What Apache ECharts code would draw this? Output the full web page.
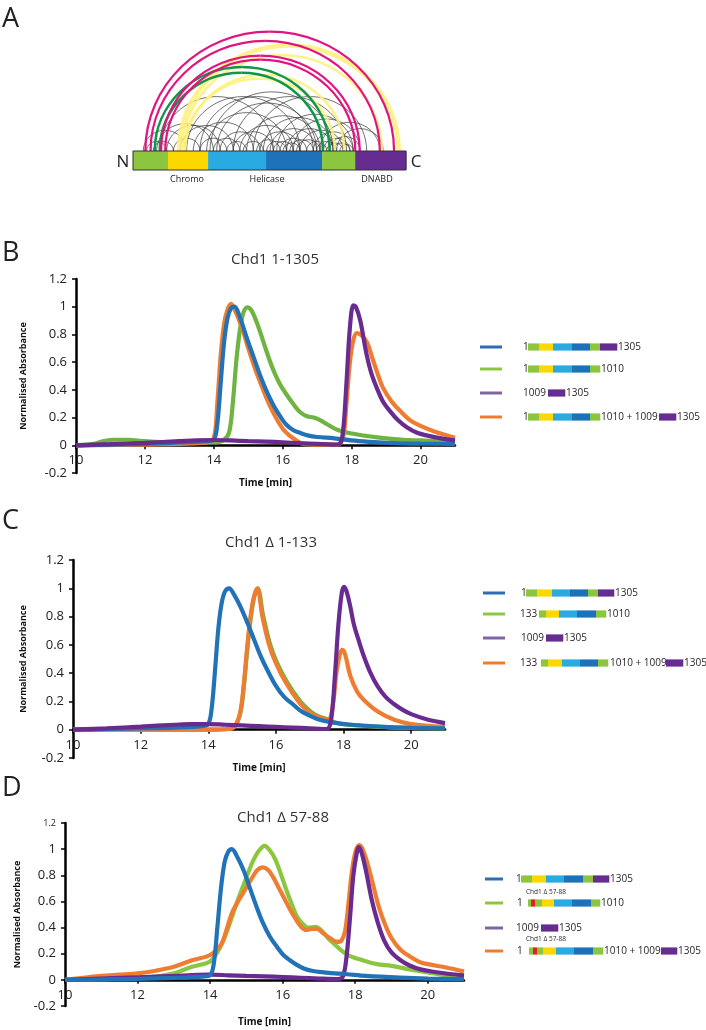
<!DOCTYPE html>
<html>
<head>
<meta charset="utf-8">
<script src="https://cdn.jsdelivr.net/npm/echarts@6/dist/echarts.min.js"></script>
<style>
html,body{margin:0;padding:0;background:#fff;}
#c{width:706px;height:1030px;}
</style>
</head>
<body>
<div id="c"></div>
<script>
// ---------------- Panel A data (residue positions) ----------------
const DOMAINS = [[0,167],[167,359],[359,636],[636,904],[904,1062],[1062,1305]];
const DOMAIN_NAMES = ['', 'Chromo', 'Helicase', '', '', 'DNABD'];
const LINKS_BLACK = [[49,256],[65,161],[97,193],[113,384],[129,671],[193,320],[225,479],[256,798],[288,575],[320,448],[352,734],[384,511],[400,878],[416,607],[448,543],[479,1021],[479,671],[511,766],[527,623],[543,894],[575,1117],[591,703],[607,798],[623,957],[639,734],[655,878],[671,766],[687,1053],[703,830],[718,798],[734,957],[750,862],[766,1085],[782,894],[798,1005],[830,926],[862,1053],[878,973],[894,1180],[910,1037],[926,1005],[941,1085],[957,1037],[973,1196],[989,1053],[320,862],[368,957],[161,416]];
const LINKS_YELLOW = [[215,1275],[225,1265],[235,1190],[245,965],[250,1010]];
const LINKS_GREEN = [[104,940],[128,908]];
const LINKS_PINK = [[59,1248],[84,1180],[134,1084],[154,1063]];

// ---------------- Chromatography data: [time (min), normalised absorbance] ----------------
const X_TICKS = [10,12,14,16,18,20];

const B_BLUE = [[10,0],[11,0.005],[12,0.01],[13,0.02],[13.8,0.03],[14.0,0.04],[14.1,0.15],[14.2,0.45],[14.3,0.75],[14.4,0.92],[14.5,0.99],[14.6,1.0],[14.75,0.93],[14.95,0.78],[15.15,0.64],[15.35,0.5],[15.55,0.38],[15.75,0.28],[15.95,0.2],[16.1,0.15],[16.3,0.11],[16.5,0.09],[16.75,0.07],[17.0,0.06],[17.5,0.05],[18.0,0.035],[18.5,0.025],[19.0,0.018],[20.0,0.012],[21.0,0.01]];
const B_GREEN = [[10,0],[10.5,0.01],[10.8,0.03],[11.1,0.04],[11.5,0.04],[12,0.03],[13,0.02],[14,0.02],[14.3,0.04],[14.45,0.1],[14.55,0.3],[14.65,0.6],[14.75,0.82],[14.85,0.95],[14.97,0.995],[15.1,0.97],[15.3,0.85],[15.5,0.7],[15.7,0.56],[15.9,0.45],[16.1,0.37],[16.3,0.3],[16.5,0.24],[16.7,0.21],[16.9,0.2],[17.1,0.18],[17.3,0.15],[17.6,0.11],[18.0,0.085],[18.5,0.065],[19,0.05],[19.5,0.04],[20,0.035],[21,0.025]];
const B_PURPLE = [[10,0],[11,0.008],[12,0.018],[13,0.03],[13.5,0.036],[14.0,0.038],[14.5,0.035],[15,0.03],[15.5,0.027],[16,0.022],[16.5,0.015],[17,0.01],[17.5,0.005],[17.65,0.01],[17.75,0.1],[17.85,0.45],[17.95,0.85],[18.05,1.01],[18.12,1.0],[18.25,0.9],[18.43,0.66],[18.57,0.52],[18.72,0.42],[18.9,0.32],[19.1,0.25],[19.35,0.18],[19.6,0.13],[19.9,0.09],[20.2,0.07],[20.6,0.05],[21.0,0.036]];
const B_ORANGE = [[10,0],[12,0.005],[13,0.01],[13.8,0.02],[14.0,0.05],[14.1,0.3],[14.2,0.65],[14.3,0.88],[14.4,0.98],[14.5,1.02],[14.6,0.98],[14.8,0.86],[15.0,0.7],[15.2,0.55],[15.4,0.42],[15.6,0.3],[15.8,0.2],[16.0,0.12],[16.2,0.07],[16.4,0.035],[16.6,0.01],[17.0,0.005],[17.6,0.005],[17.75,0.05],[17.85,0.3],[17.95,0.6],[18.05,0.76],[18.15,0.81],[18.3,0.79],[18.45,0.74],[18.6,0.63],[18.75,0.52],[18.9,0.42],[19.15,0.32],[19.4,0.25],[19.7,0.18],[20.0,0.14],[20.4,0.1],[21.0,0.055]];

const C_BLUE = [[10,0],[11,0.005],[12,0.01],[13,0.015],[13.8,0.025],[14.0,0.04],[14.1,0.15],[14.2,0.42],[14.3,0.72],[14.4,0.9],[14.5,0.98],[14.62,1.0],[14.75,0.96],[14.95,0.87],[15.15,0.76],[15.35,0.64],[15.55,0.52],[15.75,0.42],[16.0,0.31],[16.25,0.23],[16.5,0.18],[16.75,0.13],[17.0,0.1],[17.3,0.07],[17.7,0.05],[18.2,0.035],[19.2,0.02],[20,0.014],[21,0.01]];
const C_GREEN = [[10,0],[12,0],[14,0.0],[14.6,0.005],[14.8,0.03],[14.95,0.12],[15.05,0.3],[15.15,0.56],[15.25,0.78],[15.35,0.93],[15.46,1.0],[15.62,0.81],[15.82,0.61],[16.02,0.48],[16.32,0.34],[16.72,0.2],[17.02,0.13],[17.22,0.1],[17.5,0.075],[17.7,0.055],[18,0.04],[18.5,0.03],[19,0.02],[20,0.012],[21,0.01]];
const C_ORANGE = [[10,0],[12,0],[14,0.0],[14.6,0.005],[14.8,0.03],[14.95,0.13],[15.05,0.32],[15.15,0.58],[15.25,0.8],[15.35,0.94],[15.45,1.0],[15.6,0.8],[15.8,0.6],[16.0,0.47],[16.3,0.33],[16.7,0.19],[17.0,0.12],[17.2,0.095],[17.5,0.075],[17.6,0.08],[17.7,0.2],[17.8,0.42],[17.9,0.54],[17.97,0.565],[18.05,0.53],[18.2,0.38],[18.4,0.27],[18.6,0.21],[19.0,0.13],[19.5,0.07],[20.0,0.04],[21,0.02]];
const C_PURPLE = [[10,0],[11,0.01],[12,0.022],[13,0.035],[13.5,0.04],[14,0.04],[14.5,0.035],[15,0.03],[15.5,0.025],[16,0.02],[16.5,0.015],[17,0.01],[17.4,0.005],[17.55,0.01],[17.65,0.1],[17.75,0.4],[17.85,0.75],[17.95,0.97],[18.02,1.01],[18.1,0.97],[18.2,0.87],[18.3,0.75],[18.45,0.63],[18.6,0.52],[18.8,0.4],[19.0,0.31],[19.25,0.23],[19.5,0.18],[19.75,0.14],[20.0,0.11],[20.5,0.07],[21.0,0.047]];

const D_BLUE = [[10,0],[11,0.003],[12,0.008],[13,0.015],[13.8,0.025],[14.0,0.035],[14.1,0.12],[14.2,0.4],[14.3,0.7],[14.4,0.9],[14.5,0.98],[14.6,1.0],[14.75,0.94],[14.92,0.84],[15.1,0.7],[15.28,0.56],[15.45,0.44],[15.65,0.33],[15.85,0.25],[16.02,0.19],[16.2,0.15],[16.39,0.115],[16.6,0.085],[16.8,0.07],[17.2,0.056],[17.77,0.043],[18.3,0.03],[19.24,0.017],[20,0.01],[21,0.005]];
const D_GREEN = [[10,0],[11,0.005],[12,0.012],[12.5,0.025],[13,0.05],[13.3,0.08],[13.5,0.1],[13.8,0.12],[14,0.14],[14.15,0.19],[14.3,0.26],[14.45,0.36],[14.6,0.48],[14.75,0.6],[14.9,0.71],[15.05,0.82],[15.2,0.92],[15.35,0.99],[15.5,1.025],[15.65,0.99],[15.8,0.92],[15.95,0.81],[16.1,0.69],[16.25,0.58],[16.4,0.48],[16.55,0.43],[16.7,0.4],[16.9,0.405],[17.1,0.37],[17.25,0.32],[17.4,0.28],[17.6,0.23],[17.8,0.19],[18.2,0.15],[18.6,0.12],[19,0.107],[19.5,0.08],[20,0.056],[20.5,0.035],[21,0.02]];
const D_ORANGE = [[10,0],[10.5,0.015],[11,0.03],[11.5,0.04],[12,0.05],[12.5,0.07],[13,0.1],[13.5,0.15],[14,0.19],[14.3,0.27],[14.45,0.38],[14.6,0.51],[14.75,0.59],[14.9,0.66],[15.05,0.73],[15.2,0.8],[15.3,0.84],[15.45,0.86],[15.6,0.84],[15.75,0.78],[15.9,0.7],[16.05,0.62],[16.2,0.54],[16.35,0.47],[16.5,0.41],[16.65,0.38],[16.8,0.39],[16.95,0.39],[17.1,0.36],[17.3,0.32],[17.5,0.29],[17.62,0.3],[17.72,0.37],[17.82,0.6],[17.92,0.85],[18.02,0.99],[18.12,1.03],[18.22,0.99],[18.35,0.88],[18.5,0.72],[18.65,0.56],[18.8,0.44],[19.0,0.32],[19.25,0.23],[19.5,0.18],[19.75,0.14],[20.0,0.12],[20.5,0.095],[21,0.065]];
const D_PURPLE = [[10,0],[11,0.01],[12,0.02],[13,0.03],[13.5,0.037],[14,0.04],[14.5,0.035],[15,0.03],[15.5,0.027],[16,0.022],[16.5,0.016],[17,0.01],[17.5,0.006],[17.65,0.02],[17.75,0.15],[17.85,0.45],[17.95,0.8],[18.05,0.98],[18.1,1.015],[18.18,0.97],[18.3,0.83],[18.45,0.62],[18.6,0.46],[18.8,0.3],[19.0,0.21],[19.25,0.15],[19.5,0.11],[19.8,0.08],[20.2,0.06],[20.6,0.045],[21,0.035]];

// ---------------- styles ----------------
const FONT = '"Open Sans", "Noto Sans", sans-serif';
const C_BLUE_L = '#2272b8', C_GREEN_L = '#6fb440', C_GREEN_L2 = '#8cc63f', C_PURPLE_L = '#6a2b90', C_ORANGE_L = '#ee7d31';
const DG = '#8cc63f', DY = '#fcd800', DLB = '#29abe2', DDB = '#1d71b8', DP = '#662d91', DR = '#e2231a';
const DOMAIN_COLORS = [DG, DY, DLB, DDB, DG, DP];
const LEG_BLUE = '#2e6db4', LEG_GREEN = '#8cc63f', LEG_PURPLE = '#8064a2', LEG_ORANGE = '#f07c32';

const GRIDS = [
  {left: 133, top: 20, width: 273, height: 151},
  {left: 76, top: 279, width: 379, height: 194},
  {left: 73, top: 560, width: 372, height: 198},
  {left: 65, top: 823, width: 399, height: 183}
];

const chart = echarts.init(document.getElementById('c'), null, {renderer: 'canvas'});

function arcRenderer(color, width, opacity) {
  return function (params, api) {
    const p1 = api.coord([api.value(0), 0]);
    const p2 = api.coord([api.value(1), 0]);
    const rx = (p2[0] - p1[0]) / 2, cx = (p1[0] + p2[0]) / 2, cy = p1[1];
    const ry = rx * 0.96, k = 0.5523;
    const st = {stroke: color, lineWidth: width, fill: 'none', opacity: opacity};
    return {type: 'group', children: [
      {type: 'bezierCurve', shape: {x1: p1[0], y1: cy, cpx1: p1[0], cpy1: cy - k * ry, cpx2: cx - k * rx, cpy2: cy - ry, x2: cx, y2: cy - ry}, style: st},
      {type: 'bezierCurve', shape: {x1: cx, y1: cy - ry, cpx1: cx + k * rx, cpy1: cy - ry, cpx2: p2[0], cpy2: cy - k * ry, x2: p2[0], y2: cy}, style: st}
    ]};
  };
}
function arcSeries(data, color, width, opacity, z) {
  return {type: 'custom', coordinateSystem: 'cartesian2d', xAxisIndex: 0, yAxisIndex: 0, clip: false, silent: true, z: z,
    data: data, renderItem: arcRenderer(color, width, opacity)};
}

// x axis drawn along y = 0: shifted up from the grid bottom by the height of 0.2 units (range -0.2..1.2 = 7 steps)
function xAxisFor(gi, gap) {
  return {type: 'value', gridIndex: gi, min: 10, max: 21, interval: 2, position: 'bottom',
    offset: -GRIDS[gi].height / 7,
    axisLine: {show: true, onZero: false, lineStyle: {color: '#000', width: 2.5}},
    axisTick: {show: true, inside: false, length: 4, lineStyle: {color: '#000', width: 1.5}, customValues: X_TICKS},
    axisLabel: {color: '#222', fontSize: 13, fontFamily: FONT, margin: 9, customValues: X_TICKS},
    splitLine: {show: false},
    name: 'Time [min]', nameLocation: 'middle', nameGap: gap,
    nameTextStyle: {fontWeight: 'bold', fontSize: 10, color: '#111', fontFamily: FONT}};
}
function yAxisFor(gi, gap, smallTop) {
  return {type: 'value', gridIndex: gi, min: -0.2, max: 1.2, interval: 0.2,
    axisLine: {show: true, onZero: false, lineStyle: {color: '#000', width: 2.5}},
    axisTick: {show: true, inside: false, length: 4, lineStyle: {color: '#000', width: 1.5}},
    axisLabel: {color: '#222', fontSize: 13, fontFamily: FONT, margin: 9,
      formatter: function (v) { const r = Math.round(v * 10) / 10; if (smallTop && r === 1.2) return '{s|1.2}'; return String(r); },
      rich: {s: {fontSize: 9, fontFamily: FONT, color: '#222'}}},
    splitLine: {show: false},
    name: 'Normalised Absorbance', nameLocation: 'middle', nameGap: gap,
    nameTextStyle: {fontWeight: 'bold', fontSize: 9, color: '#111', fontFamily: FONT}};
}
function lineSeries(gi, data, color, z) {
  return {type: 'line', xAxisIndex: gi, yAxisIndex: gi, data: data, showSymbol: false, smooth: 0.35,
    lineStyle: {color: color, width: 4.2}, itemStyle: {color: color}, z: z, silent: true, clip: true};
}

// ---------------- graphic helpers (text, legend) ----------------
const graphics = [];
function txt(x, y, s, size, opts) {
  opts = opts || {};
  graphics.push({type: 'text', x: x, y: y, z: 10, silent: true, style: {text: s, fill: opts.color || '#231f20', fontSize: size,
    fontFamily: FONT, fontWeight: opts.weight || 'normal', align: opts.align || 'left', textAlign: opts.align || 'left',
    verticalAlign: 'middle', textVerticalAlign: 'middle'}});
}
function legendRow(y, color, lx1, lx2, items) {
  graphics.push({type: 'line', silent: true, shape: {x1: lx1, y1: y, x2: lx2, y2: y}, style: {stroke: color, lineWidth: 3}});
  items.forEach(function (it) {
    if (typeof it[1] === 'string') {
      txt(it[0], y, it[1], 10);
    } else {
      let x = it[0];
      it[1].forEach(function (sg) {
        graphics.push({type: 'rect', silent: true, shape: {x: x, y: y - 3.6, width: sg[0] + 0.3, height: 7.2}, style: {fill: sg[1]}});
        x += sg[0];
      });
    }
  });
}

// panel letters and titles
txt(2, 19, 'A', 27, {color: '#222'});
txt(2, 253, 'B', 27, {color: '#222'});
txt(2, 521, 'C', 27, {color: '#222'});
txt(2, 788, 'D', 27, {color: '#222'});
txt(275, 260, 'Chd1 1-1305', 15, {align: 'center', color: '#333'});
txt(271, 543, 'Chd1 Δ 1-133', 15, {align: 'center', color: '#333'});
txt(283, 818, 'Chd1 Δ 57-88', 15, {align: 'center', color: '#333'});
// panel A labels
txt(123, 162, 'N', 17, {align: 'center', color: '#222'});
txt(416, 162, 'C', 17, {align: 'center', color: '#222'});

const FULL = [[11, DG], [14, DY], [19, DLB], [18, DDB], [10, DG], [17, DP]];
const N1010 = [[11, DG], [14, DY], [19, DLB], [18, DDB], [10, DG]];
// B legend
legendRow(347, LEG_BLUE, 480, 502, [[523, '1'], [528, FULL], [618, '1305']]);
legendRow(369, LEG_GREEN, 480, 502, [[523, '1'], [528, N1010], [601, '1010']]);
legendRow(393, LEG_PURPLE, 480, 502, [[523, '1009'], [548, [[17, DP]]], [566, '1305']]);
legendRow(417, LEG_ORANGE, 480, 502, [[523, '1'], [528, N1010], [601, '1010 + 1009'], [659, [[17, DP]]], [677, '1305']]);
// C legend
legendRow(593, LEG_BLUE, 483, 505, [[521, '1'], [526, [[11, DG], [15, DY], [18, DLB], [18, DDB], [10, DG], [16, DP]]], [615, '1305']]);
legendRow(614, LEG_GREEN, 483, 505, [[520, '133'], [539, [[7, DG], [13, DY], [18, DLB], [19, DDB], [10, DG]]], [607, '1010']]);
legendRow(638, LEG_PURPLE, 483, 505, [[521, '1009'], [546, [[17, DP]]], [564, '1305']]);
legendRow(663, LEG_ORANGE, 483, 505, [[520, '133'], [541, [[7, DG], [14, DY], [18, DLB], [18, DDB], [10, DG]]], [610, '1010 + 1009'], [666, [[17, DP]]], [684, '1305']]);
// D legend
legendRow(879, LEG_BLUE, 485, 503, [[516, '1'], [521, [[11, DG], [14, DY], [18, DLB], [19, DDB], [10, DG], [16, DP]]], [610, '1305']]);
txt(526, 892, 'Chd1 Δ 57-88', 6.5);
legendRow(903, LEG_GREEN, 485, 503, [[517, '1'], [528, [[3, DG], [4, DR], [7, DG], [12, DY], [18, DLB], [19, DDB], [9, DG]]], [601, '1010']]);
legendRow(928, LEG_PURPLE, 485, 503, [[516, '1009'], [541, [[17, DP]]], [559, '1305']]);
txt(526, 939, 'Chd1 Δ 57-88', 6.5);
legendRow(951, LEG_ORANGE, 485, 503, [[517, '1'], [529, [[4, DG], [4, DR], [6, DG], [13, DY], [18, DLB], [19, DDB], [10, DG]]], [604, '1010 + 1009'], [661, [[16, DP]]], [678, '1305']]);

const option = {
  animation: false,
  backgroundColor: '#fff',
  grid: GRIDS.map(function (g) { return Object.assign({containLabel: false, outerBoundsMode: 'none'}, g); }),
  xAxis: [
    {type: 'value', gridIndex: 0, min: 0, max: 1305, show: false},
    xAxisFor(1, 33), xAxisFor(2, 33), xAxisFor(3, 37)
  ],
  yAxis: [
    {type: 'value', gridIndex: 0, min: -20, max: 131, show: false},
    yAxisFor(1, 48, false), yAxisFor(2, 45, false), yAxisFor(3, 43, true)
  ],
  graphic: graphics,
  series: [
    // Panel A: domain bar
    {type: 'custom', coordinateSystem: 'cartesian2d', xAxisIndex: 0, yAxisIndex: 0, clip: false, silent: true, z: 3,
      data: DOMAINS.map(function (d, i) { return [d[0], d[1], i]; }),
      renderItem: function (params, api) {
        const a = api.coord([api.value(0), 0]), b = api.coord([api.value(1), -19]);
        const i = api.value(2);
        const children = [{type: 'rect', shape: {x: a[0], y: a[1], width: b[0] - a[0] + 0.4, height: b[1] - a[1]}, style: {fill: DOMAIN_COLORS[i]}}];
        if (DOMAIN_NAMES[i]) {
          children.push({type: 'text', x: (i === 2 ? 267 : (i === 1 ? 187 : 377)), y: b[1] + 9,
            style: {text: DOMAIN_NAMES[i], fill: '#222', fontSize: 9, fontFamily: FONT, align: 'center', textAlign: 'center', verticalAlign: 'middle', textVerticalAlign: 'middle'}});
        }
        return {type: 'group', children: children};
      }},
    {type: 'custom', coordinateSystem: 'cartesian2d', xAxisIndex: 0, yAxisIndex: 0, clip: false, silent: true, z: 4,
      data: [[0, 1305]],
      renderItem: function (params, api) {
        const a = api.coord([api.value(0), 0]), b = api.coord([api.value(1), -19]);
        return {type: 'rect', shape: {x: a[0], y: a[1], width: b[0] - a[0], height: b[1] - a[1]}, style: {fill: 'none', stroke: '#333', lineWidth: 1}};
      }},
    arcSeries(LINKS_BLACK, '#3a3a3a', 0.8, 0.9, 2),
    arcSeries(LINKS_YELLOW, '#fff07a', 2.6, 0.85, 2),
    arcSeries(LINKS_GREEN, '#0f9648', 2.6, 1, 2),
    arcSeries(LINKS_PINK, '#e0157f', 2.2, 1, 2),
    // Panel B
    lineSeries(1, B_GREEN, C_GREEN_L, 2),
    lineSeries(1, B_ORANGE, C_ORANGE_L, 2),
    lineSeries(1, B_BLUE, C_BLUE_L, 2),
    lineSeries(1, B_PURPLE, C_PURPLE_L, 2),
    // Panel C
    lineSeries(2, C_GREEN, C_GREEN_L, 2),
    lineSeries(2, C_ORANGE, C_ORANGE_L, 2),
    lineSeries(2, C_BLUE, C_BLUE_L, 2),
    lineSeries(2, C_PURPLE, C_PURPLE_L, 2),
    // Panel D
    lineSeries(3, D_GREEN, C_GREEN_L2, 2),
    lineSeries(3, D_ORANGE, C_ORANGE_L, 2),
    lineSeries(3, D_PURPLE, C_PURPLE_L, 2),
    lineSeries(3, D_BLUE, C_BLUE_L, 2)
  ]
};
chart.setOption(option);
</script>
</body>
</html>
